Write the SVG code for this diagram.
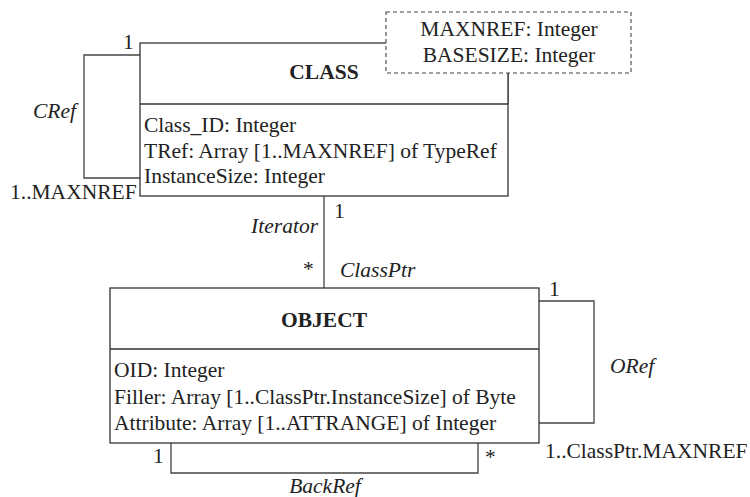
<svg xmlns="http://www.w3.org/2000/svg" width="750" height="497" viewBox="0 0 750 497">
<style>
text{font-family:'Liberation Serif','Times New Roman',serif;font-size:21.5px;fill:#222}
.b{font-weight:bold}
.i{font-style:italic}
.m{text-anchor:middle}
.e{text-anchor:end}
.box{fill:#fff;stroke:#333;stroke-width:1.3}
.ln{fill:none;stroke:#444;stroke-width:1.3}
.dash{fill:#fff;stroke:#444;stroke-width:1.1;stroke-dasharray:4,3}
</style>
<rect width="750" height="497" fill="#fff"/>
<g id="connectors">
<polyline class="ln" points="140,55 84,55 84,178 140,178"/>
<line class="ln" x1="324" y1="196" x2="324" y2="288"/>
<polyline class="ln" points="539,301 594,301 594,423 539,423"/>
<polyline class="ln" points="171,443 171,473 478,473 478,443"/>
<line class="ln" x1="508" y1="73" x2="508" y2="104"/>
<text x="123" y="49">1</text>
<text x="33" y="118" class="i">CRef</text>
<text x="10" y="199">1..MAXNREF</text>
<text x="334" y="218">1</text>
<text x="318" y="233" class="i e">Iterator</text>
<text x="303" y="276">*</text>
<text x="340" y="277" class="i">ClassPtr</text>
<text x="549" y="296">1</text>
<text x="610" y="373" class="i">ORef</text>
<text x="545" y="458">1..ClassPtr.MAXNREF</text>
<text x="153" y="463">1</text>
<text x="485" y="464">*</text>
<text x="325" y="493" class="i m">BackRef</text>
</g>
<g id="class">
<rect class="box" x="140" y="43" width="368" height="153"/>
<line class="box" x1="140" y1="104" x2="508" y2="104"/>
<text x="324" y="79" class="b m">CLASS</text>
<text x="144" y="132">Class_ID: Integer</text>
<text x="144" y="158">TRef: Array [1..MAXNREF] of TypeRef</text>
<text x="144" y="183">InstanceSize: Integer</text>
</g>
<g id="constants">
<rect class="dash" x="386" y="12" width="245" height="61"/>
<text x="509" y="36" class="m">MAXNREF: Integer</text>
<text x="509" y="62" class="m">BASESIZE: Integer</text>
</g>
<g id="object">
<rect class="box" x="110" y="288" width="429" height="155"/>
<line class="box" x1="110" y1="349" x2="539" y2="349"/>
<text x="324" y="327" class="b m">OBJECT</text>
<text x="114" y="377">OID: Integer</text>
<text x="114" y="404">Filler: Array [1..ClassPtr.InstanceSize] of Byte</text>
<text x="114" y="430">Attribute: Array [1..ATTRANGE] of Integer</text>
</g>
</svg>
